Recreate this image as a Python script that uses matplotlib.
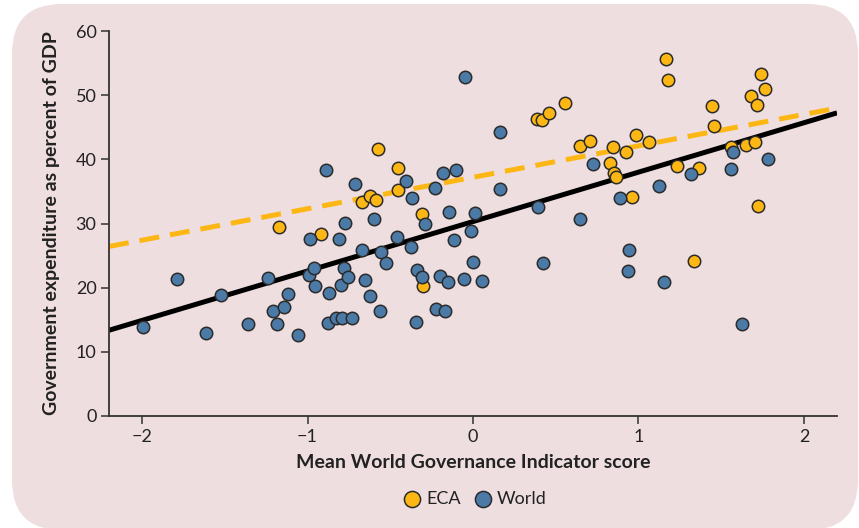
#!/usr/bin/env python3
"""Government expenditure vs. World Governance Indicator (ECA vs. World)."""

import matplotlib
matplotlib.use("Agg")
import matplotlib.pyplot as plt
import numpy as np
from matplotlib.patches import FancyBboxPatch

# Data
eca_wgi = [-1.174, -0.917, -0.668, -0.624, -0.584, -0.576, -0.453, -0.453,
           -0.311, -0.301, 0.388, 0.420, 0.461, 0.558, 0.645, 0.705, 0.826,
           0.844, 0.850, 0.865, 0.925, 0.958, 0.986, 1.063, 1.164, 1.178,
           1.234, 1.337, 1.368, 1.446, 1.455, 1.558, 1.647, 1.681, 1.703,
           1.715, 1.725, 1.739, 1.762]
eca_exp = [29.5, 28.3, 33.4, 34.3, 33.7, 41.6, 38.6, 35.2,
           31.5, 20.3, 46.3, 46.1, 47.2, 48.8, 42.1, 42.9, 39.5,
           42.0, 37.9, 37.2, 41.2, 34.1, 43.8, 42.7, 55.7, 52.4,
           39.0, 24.2, 38.7, 48.3, 45.2, 41.9, 42.3, 49.8, 42.7,
           48.5, 32.7, 53.3, 50.9]

world_wgi = [-1.992, -1.788, -1.614, -1.521, -1.362, -1.236, -1.210, -1.186,
             -1.144, -1.121, -1.055, -0.992, -0.984, -0.958, -0.952, -0.887,
             -0.877, -0.873, -0.826, -0.810, -0.798, -0.792, -0.780, -0.774,
             -0.756, -0.731, -0.715, -0.671, -0.653, -0.620, -0.596, -0.564,
             -0.556, -0.523, -0.457, -0.406, -0.376, -0.366, -0.345, -0.338,
             -0.309, -0.293, -0.230, -0.222, -0.202, -0.182, -0.170, -0.153,
             -0.143, -0.113, -0.103, -0.055, -0.048, -0.014, -0.002, 0.010,
             0.053, 0.162, 0.166, 0.394, 0.426, 0.645, 0.725, 0.891, 0.939,
             0.941, 1.125, 1.156, 1.319, 1.561, 1.574, 1.626, 1.780]
world_exp = [13.8, 21.3, 12.9, 18.8, 14.3, 21.5, 16.4, 14.4,
             17.0, 19.0, 12.6, 22.0, 27.6, 23.1, 20.3, 38.3,
             14.5, 19.2, 15.2, 27.6, 20.4, 15.3, 23.0, 30.1,
             21.6, 15.3, 36.1, 25.8, 21.2, 18.7, 30.7, 16.4,
             25.5, 23.9, 27.9, 36.7, 26.4, 34.0, 14.6, 22.8,
             21.7, 30.0, 35.6, 16.6, 21.8, 37.9, 16.4, 20.9,
             31.8, 27.5, 38.3, 21.3, 52.9, 28.8, 24.0, 31.7,
             21.1, 35.4, 44.3, 32.6, 23.9, 30.7, 39.3, 34.0, 22.6,
             25.9, 35.8, 20.9, 37.7, 38.5, 41.2, 14.3, 40.0]

# Fitted lines as drawn (intercept, slope)
eca_fit = (37.2, 4.9)
world_fit = (30.3, 7.7)

YELLOW = "#FDB714"
BLUE = "#4B7AA6"
BG = "#EFDEE0"
EDGE = "#2B2B2B"
TXT = "#222222"


def main():
    plt.rcParams.update({
        "font.family": ["Lato", "DejaVu Sans"],
        "axes.edgecolor": "#333333",
        "xtick.color": "#333333",
        "ytick.color": "#333333",
        "xtick.labelcolor": TXT,
        "ytick.labelcolor": TXT,
    })

    fig = plt.figure(figsize=(8.59, 5.28), dpi=100, facecolor="white")

    # rounded pink panel (pixel coordinates)
    panel = FancyBboxPatch((12, -2), 846, 526,
                           boxstyle="round,pad=0,rounding_size=50",
                           transform=None, facecolor=BG, edgecolor="none",
                           zorder=0)
    fig.add_artist(panel)

    ax = fig.add_axes([109 / 859, 1 - 416 / 528, 728 / 859, 385 / 528])
    ax.set_facecolor("none")

    xs = np.array([-2.2, 2.2])
    ax.plot(xs, eca_fit[0] + eca_fit[1] * xs, color=YELLOW, lw=3.6,
            dashes=(4, 2.2), zorder=1, solid_capstyle="butt")
    ax.plot(xs, world_fit[0] + world_fit[1] * xs, color="black", lw=3.6,
            zorder=2, solid_capstyle="butt")

    ax.scatter(eca_wgi, eca_exp, s=80, color=YELLOW, edgecolor=EDGE,
               linewidth=1.1, zorder=3, label="ECA")
    ax.scatter(world_wgi, world_exp, s=80, color=BLUE, edgecolor=EDGE,
               linewidth=1.1, zorder=4, label="World")

    ax.set_xlim(-2.2, 2.2)
    ax.set_ylim(0, 60)
    ax.set_xticks([-2, -1, 0, 1, 2])
    ax.set_xticklabels(["\u22122", "\u22121", "0", "1", "2"])
    ax.set_yticks(range(0, 61, 10))
    ax.tick_params(labelsize=13, length=6, width=1.1, pad=3)

    ax.spines[["top", "right"]].set_visible(False)
    for side in ("left", "bottom"):
        ax.spines[side].set_linewidth(1.3)

    ax.set_xlabel("Mean World Governance Indicator score", fontsize=14,
                  fontweight="bold", color=TXT, labelpad=7)
    ax.set_ylabel("Government expenditure as percent of GDP", fontsize=14,
                  fontweight="bold", color=TXT, labelpad=11)

    fig.legend(loc="center", bbox_to_anchor=(474 / 859, 1 - 499 / 528),
               ncol=2, frameon=False, fontsize=13, handlelength=1.2,
               handletextpad=0.2, columnspacing=0.6, markerscale=1.3,
               labelcolor=TXT)

    fig.savefig("out.png", dpi=100, facecolor="white")


if __name__ == "__main__":
    main()
